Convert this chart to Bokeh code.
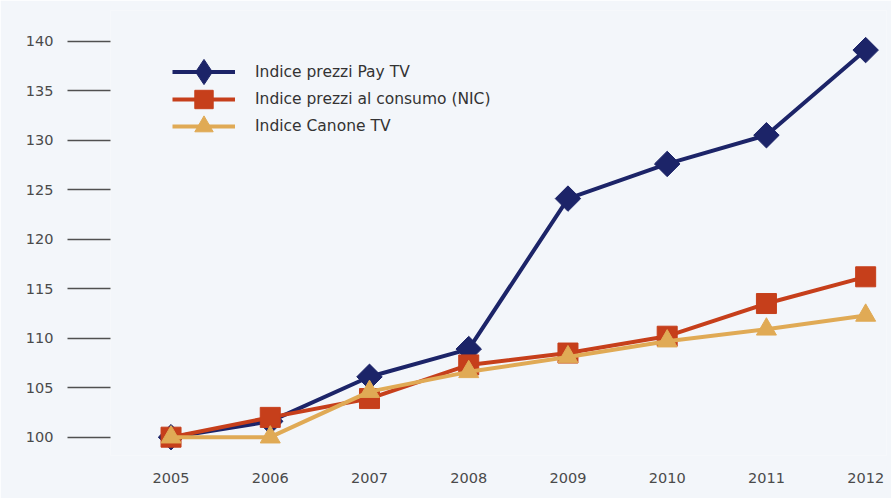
from bokeh.plotting import figure
from bokeh.models import Range1d, FixedTicker, Legend, LegendItem
from bokeh.embed import file_html
from bokeh.resources import INLINE

years = [2005, 2006, 2007, 2008, 2009, 2010, 2011, 2012]
pay_tv = [100.0, 101.6, 106.1, 108.9, 124.1, 127.6, 130.5, 139.1]
nic = [100.0, 102.0, 103.9, 107.3, 108.5, 110.2, 113.5, 116.2]
canone = [100.0, 100.0, 104.6, 106.6, 108.1, 109.7, 110.9, 112.3]
y_ticks = [100, 105, 110, 115, 120, 125, 130, 135, 140]

labels = ["Indice prezzi Pay TV", "Indice prezzi al consumo (NIC)", "Indice Canone TV"]
colors = ["#1c2468", "#c63f1b", "#e0aa55"]

BG = "#f3f6fa"
FONT = "DejaVu Sans"

p = figure(width=891, height=498, output_backend="svg", toolbar_location=None,
           x_range=Range1d(2004.39, 2012.21), y_range=Range1d(98.15, 143.1),
           min_border_left=110, min_border_right=5, min_border_top=10, min_border_bottom=43,
           background_fill_color=BG, border_fill_color=BG)
p.outline_line_color = None
p.xgrid.grid_line_color = None
p.ygrid.grid_line_color = None

# x axis
p.xaxis.ticker = FixedTicker(ticks=years)
p.xaxis.axis_line_color = None
p.xaxis.major_tick_line_color = None
p.xaxis.minor_tick_line_color = None
p.xaxis.major_label_standoff = 11
p.xaxis.major_label_text_font = FONT
p.xaxis.major_label_text_font_size = "14.5px"
p.xaxis.major_label_text_color = "#4a4a4a"

# y axis
p.yaxis.ticker = FixedTicker(ticks=y_ticks)
p.yaxis.axis_line_color = None
p.yaxis.minor_tick_line_color = None
p.yaxis.major_tick_line_color = "#505050"
p.yaxis.major_tick_line_width = 1.5
p.yaxis.major_tick_out = 43
p.yaxis.major_tick_in = 0
p.yaxis.major_label_standoff = 14
p.yaxis.major_label_text_font = FONT
p.yaxis.major_label_text_font_size = "14.5px"
p.yaxis.major_label_text_color = "#4a4a4a"

l1 = p.line(years, pay_tv, line_color=colors[0], line_width=4)
# plain diamond (hidden under the rotated squares) used as the legend key
k1 = p.scatter(years, pay_tv, marker="diamond", size=18,
               fill_color=colors[0], line_color=colors[0])
m1 = p.scatter(years, pay_tv, marker="square", angle=0.785398, size=18,
               fill_color=colors[0], line_color=colors[0])

l2 = p.line(years, nic, line_color=colors[1], line_width=4)
m2 = p.scatter(years, nic, marker="square", size=20,
               fill_color=colors[1], line_color=colors[1])

l3 = p.line(years, canone, line_color=colors[2], line_width=4)
m3 = p.scatter(years, canone, marker="triangle", size=20,
               fill_color=colors[2], line_color=colors[2])

legend_specs = [
    (labels[0], [l1, k1], 63, (62, 352)),
    (labels[1], [l2, m2], 46, (62, 333)),
    (labels[2], [l3, m3], 46, (62, 306)),
]
for lab, rends, gh, loc in legend_specs:
    lg = Legend(items=[LegendItem(label=lab, renderers=rends)], location=loc,
                orientation="vertical", glyph_width=63, glyph_height=gh,
                spacing=0, padding=0, margin=0, label_standoff=20,
                label_text_font=FONT, label_text_font_size="15.5px",
                label_text_color="#333333", background_fill_alpha=0,
                border_line_color=None)
    p.add_layout(lg, "center")

open("out.html", "w").write(file_html(p, INLINE))
